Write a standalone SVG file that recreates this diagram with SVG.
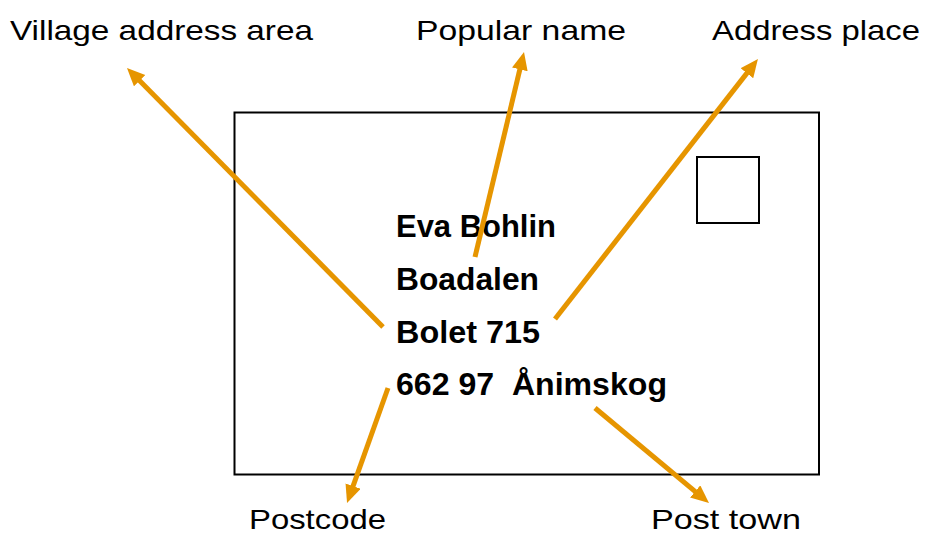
<svg xmlns="http://www.w3.org/2000/svg" width="925" height="536" viewBox="0 0 925 536">
<style>
.lbl{font-family:"Liberation Sans","Open Sans",sans-serif;font-size:28px;fill:#000}
.addr{font-family:"Liberation Sans","Open Sans",sans-serif;font-size:31px;font-weight:bold;fill:#000}
.arr{stroke:#E69500;stroke-width:5;fill:none;marker-end:url(#ah)}
</style>
<defs>
<marker id="ah" markerUnits="userSpaceOnUse" markerWidth="20" markerHeight="18" refX="8" refY="8" orient="auto">
<path d="M0,0 L18,8 L0,16 z" fill="#E69500"/>
</marker>
</defs>
<rect width="925" height="536" fill="#fff"/>
<g id="envelope">
<rect x="234.5" y="112.5" width="584.5" height="362" fill="none" stroke="#000" stroke-width="2"/>
<rect x="697" y="157" width="62" height="66" fill="none" stroke="#000" stroke-width="2"/>
</g>
<g id="address">
<text class="addr" x="396" y="237" textLength="160" lengthAdjust="spacingAndGlyphs">Eva Bohlin</text>
<text class="addr" x="396" y="290" textLength="143" lengthAdjust="spacingAndGlyphs">Boadalen</text>
<text class="addr" x="396" y="343" textLength="144" lengthAdjust="spacingAndGlyphs">Bolet 715</text>
<text class="addr" x="396" y="395" textLength="271" lengthAdjust="spacingAndGlyphs" xml:space="preserve">662 97  Ånimskog</text>
</g>
<g id="label-village"><text class="lbl" x="10" y="40" textLength="303" lengthAdjust="spacingAndGlyphs">Village address area</text></g>
<g id="label-popular"><text class="lbl" x="416" y="40" textLength="210" lengthAdjust="spacingAndGlyphs">Popular name</text></g>
<g id="label-place"><text class="lbl" x="712" y="40" textLength="208" lengthAdjust="spacingAndGlyphs">Address place</text></g>
<g id="label-postcode"><text class="lbl" x="249" y="529" textLength="137" lengthAdjust="spacingAndGlyphs">Postcode</text></g>
<g id="label-posttown"><text class="lbl" x="651" y="529" textLength="150" lengthAdjust="spacingAndGlyphs">Post town</text></g>
<g id="connectors">
<line class="arr" x1="383" y1="327" x2="134" y2="75"/>
<line class="arr" x1="475" y1="257" x2="521.7" y2="61.7"/>
<line class="arr" x1="555" y1="319" x2="751.8" y2="66.9"/>
<line class="arr" x1="388" y1="388" x2="350.4" y2="493.6"/>
<line class="arr" x1="595" y1="408" x2="701.3" y2="496.6"/>
</g>
</svg>
